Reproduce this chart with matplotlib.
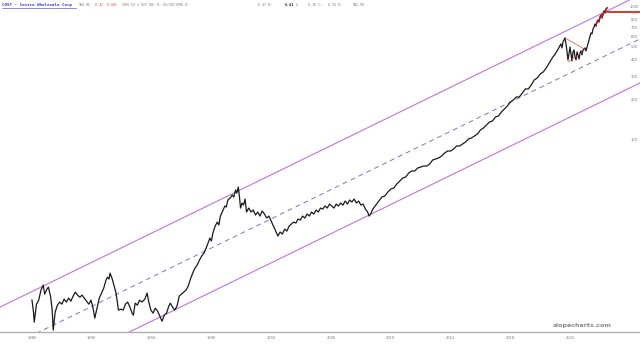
import numpy as np
import matplotlib
matplotlib.use("Agg")
import matplotlib.pyplot as plt
from matplotlib import transforms

# price history (decimal year, adjusted close)
years = [
    1986.0, 1986.1, 1986.15, 1986.3, 1986.45, 1986.6, 1986.75, 1986.85, 1987.0, 1987.1,
    1987.25, 1987.35, 1987.42, 1987.55, 1987.7, 1987.85, 1988.0, 1988.15, 1988.3, 1988.45,
    1988.6, 1988.75, 1988.9, 1989.05, 1989.2, 1989.35, 1989.5, 1989.65, 1989.8, 1989.95,
    1990.1, 1990.2, 1990.35, 1990.5, 1990.65, 1990.8, 1990.95, 1991.05, 1991.15, 1991.22,
    1991.35, 1991.5, 1991.62, 1991.72, 1991.78, 1991.95, 1992.1, 1992.25, 1992.4, 1992.55,
    1992.7, 1992.78, 1992.9, 1993.05, 1993.2, 1993.35, 1993.55, 1993.7, 1993.8, 1993.95,
    1994.1, 1994.25, 1994.4, 1994.55, 1994.7, 1994.85, 1995.0, 1995.15, 1995.25, 1995.4,
    1995.55, 1995.7, 1995.85, 1996.0, 1996.15, 1996.3, 1996.45, 1996.6, 1996.75, 1996.9,
    1997.05, 1997.2, 1997.35, 1997.5, 1997.65, 1997.8, 1997.9, 1998.0, 1998.1, 1998.25,
    1998.4, 1998.5, 1998.6, 1998.75, 1998.9, 1999.0, 1999.1, 1999.25, 1999.4, 1999.5,
    1999.62, 1999.7, 1999.8, 1999.88, 1999.95, 2000.05, 2000.15, 2000.25, 2000.35, 2000.5,
    2000.65, 2000.8, 2000.95, 2001.1, 2001.25, 2001.4, 2001.55, 2001.7, 2001.85, 2002.0,
    2002.15, 2002.3, 2002.45, 2002.6, 2002.75, 2002.9, 2003.05, 2003.2, 2003.35, 2003.5,
    2003.65, 2003.8, 2003.95, 2004.1, 2004.25, 2004.4, 2004.55, 2004.7, 2004.85, 2005.0,
    2005.15, 2005.3, 2005.45, 2005.6, 2005.75, 2005.9, 2006.05, 2006.2, 2006.35, 2006.5,
    2006.65, 2006.8, 2006.95, 2007.1, 2007.25, 2007.4, 2007.55, 2007.7, 2007.85, 2008.0,
    2008.15, 2008.3, 2008.45, 2008.55, 2008.65, 2008.8, 2008.95, 2009.1, 2009.25, 2009.4,
    2009.6, 2009.8, 2010.0, 2010.2, 2010.4, 2010.6, 2010.8, 2011.0, 2011.2, 2011.4,
    2011.6, 2011.8, 2012.0, 2012.2, 2012.4, 2012.6, 2012.8, 2013.0, 2013.2, 2013.4,
    2013.6, 2013.8, 2014.0, 2014.2, 2014.4, 2014.6, 2014.8, 2015.0, 2015.2, 2015.4,
    2015.6, 2015.8, 2016.0, 2016.2, 2016.4, 2016.6, 2016.8, 2017.0, 2017.2, 2017.4,
    2017.6, 2017.8, 2018.0, 2018.2, 2018.4, 2018.6, 2018.8, 2019.0, 2019.2, 2019.4,
    2019.6, 2019.8, 2020.0, 2020.2, 2020.4, 2020.6, 2020.8, 2021.0, 2021.2, 2021.38,
    2021.45, 2021.52, 2021.65, 2021.72, 2021.79, 2021.85, 2021.92, 2021.99, 2022.06, 2022.12,
    2022.19, 2022.26, 2022.32, 2022.39, 2022.46, 2022.52, 2022.59, 2022.66, 2022.73, 2022.79,
    2022.86, 2022.99, 2023.06, 2023.19, 2023.26, 2023.33, 2023.39, 2023.46, 2023.53, 2023.6,
    2023.66, 2023.73, 2023.8, 2023.87, 2023.93, 2024.0, 2024.07, 2024.13, 2024.2, 2024.27,
    2024.33, 2024.4, 2024.47,
]
prices = [
    6.25, 5.08, 4.27, 5.83, 6.25, 7.43, 8.11, 6.94, 7.56, 7.83,
    6.58, 5.26, 3.72, 5.08, 5.73, 6.04, 5.83, 6.36, 6.04, 6.47,
    6.14, 6.70, 7.18, 6.82, 6.58, 6.82, 6.47, 6.14, 5.83, 6.25,
    5.35, 4.58, 5.44, 6.47, 7.06, 7.70, 8.84, 9.31, 9.00, 9.98,
    9.15, 7.96, 7.06, 5.93, 5.26, 5.35, 5.26, 5.83, 6.04, 5.54,
    4.99, 4.82, 5.93, 5.73, 6.25, 6.04, 6.36, 7.06, 6.14, 5.26,
    4.99, 5.44, 5.17, 4.74, 4.34, 4.82, 4.99, 5.63, 5.93, 5.54,
    5.26, 5.63, 6.70, 6.94, 7.18, 7.43, 7.96, 9.00, 9.98, 10.88,
    11.46, 12.5, 13.4, 14.1, 15.4, 17.08, 18.30, 17.4, 19.96, 22.53,
    24.15, 22.93, 26.80, 29.23, 31.87, 31.32, 35.36, 36.61, 38.56, 37.25,
    42.05, 39.92, 44.29, 37.25, 30.79, 33.57, 32.43, 35.98, 28.73, 30.79,
    28.73, 29.74, 27.27, 28.73, 26.80, 29.23, 27.75, 25.89, 26.80, 24.57,
    22.53, 20.66, 18.95, 20.31, 19.62, 21.39, 20.66, 22.53, 23.33, 24.15,
    23.73, 25.45, 25.0, 26.80, 25.89, 27.75, 26.80, 28.73, 27.75, 29.74,
    28.73, 30.79, 30.26, 31.87, 30.79, 32.99, 31.87, 30.79, 32.99, 31.87,
    33.57, 32.43, 34.75, 32.99, 35.36, 34.16, 35.98, 33.57, 34.75, 32.43,
    32.99, 30.26, 28.73, 26.80, 27.75, 30.26, 31.87, 33.57, 35.36, 37.25,
    37.90, 40.62, 42.78, 43.53, 46.65, 49.14, 51.78, 52.69, 56.46, 58.46,
    58.46, 61.57, 62.65, 63.74, 63.74, 65.99, 70.72, 71.96, 73.22, 75.80,
    79.84, 82.65, 82.65, 85.56, 90.13, 90.13, 93.31, 96.60, 101.8, 103.6,
    107.2, 111.0, 119.0, 123.1, 129.7, 136.6, 139.0, 149.0, 151.6, 162.5,
    171.1, 180.3, 193.2, 200.0, 210.7, 210.7, 225.9, 242.1, 242.1, 259.4,
    282.9, 292.9, 313.9, 324.9, 348.3, 379.8, 414.3, 444.0, 484.1, 527.9,
    492.6, 546.5, 585.7, 527.9, 459.6, 400.0, 444.0, 501.2, 436.4, 393.1,
    459.6, 475.8, 421.5, 400.0, 459.6, 436.4, 407.1, 451.7, 467.6, 436.4,
    475.8, 492.6, 467.6, 527.9, 565.8, 606.4, 638.7, 627.7, 684.5, 708.7,
    746.5, 721.0, 772.8, 800.0, 772.8, 843.0, 872.7, 828.5, 888.0, 935.3,
    903.4, 968.2, 985.2,
]

# regression channel end points (year, price)
channel_years = [1983.86, 2026.67]
channel_upper = [5.54, 1234.0]
channel_mid = [2.586, 575.7]
channel_lower = [1.207, 268.6]

# triangle drawn on the 2022 top
tri_years = [2021.65, 2022.93]
tri_top = [585.7, 484.1]
tri_bottom_years = [2021.85, 2022.93]
tri_bottom = [386.4, 467.6]

last_level = 920.0
x_ticks = [1986, 1990, 1994, 1998, 2002, 2006, 2010, 2014, 2018, 2022]
y_ticks = [100, 200, 300, 400, 500, 600, 700, 800, 900, 1000]

W, H = 640, 344
fig = plt.figure(figsize=(W / 100, H / 100), dpi=100)
fig.patch.set_facecolor("white")
ax = fig.add_axes([0, 12 / H, 1, 332 / H])
ax.set_yscale("log")
ax.set_xlim(1983.86, 2026.67)
ax.set_ylim(3.60, 1129)

purple = "#c173d8"
ax.plot(channel_years, channel_upper, color=purple, lw=0.8)
ax.plot(channel_years, channel_lower, color=purple, lw=0.8)
ax.plot(channel_years, channel_mid, color="#8a6cc4", lw=0.7, ls=(0, (5, 4)))

ax.plot(years, prices, color="#1a1a1a", lw=0.9)
ax.plot(years[-12:], prices[-12:], color="#a02020", lw=0.9)

ax.plot(tri_years, tri_top, color="#d05050", lw=0.5)
ax.plot(tri_bottom_years, tri_bottom, color="#d05050", lw=0.5)
ax.plot([years[-1], 2026.67], [last_level, last_level], color="#dd2222", lw=1.3)

# axes styling
for s in ["top", "left", "right"]:
    ax.spines[s].set_visible(False)
ax.spines["bottom"].set_color("#b0b0b0")
ax.spines["bottom"].set_linewidth(1.0)
ax.set_xticks(x_ticks)
ax.set_xticklabels([str(y) for y in x_ticks], fontsize=2.6, color="#777777")
ax.tick_params(axis="x", length=0, pad=3)
ax.set_yticks([])
ax.minorticks_off()
ax.yaxis.set_minor_locator(matplotlib.ticker.NullLocator())

tr = transforms.blended_transform_factory(ax.transAxes, ax.transData)
for v in y_ticks:
    ax.text(634 / W, v, str(v), transform=tr, ha="center", va="center",
            fontsize=2.6, color="#777777")

# header
mono = "DejaVu Sans Mono"
def head(x, s, color="#777777", weight="normal", size=2.4):
    fig.text(x / W, 1 - 5 / H, s, ha="left", va="center", family=mono,
             fontsize=size, color=color, weight=weight)

head(2, "COST - Costco Wholesale Corp", color="#3333cc", weight="bold", size=3.1)
fig.add_artist(plt.Line2D([2 / W, 76 / W], [1 - 7.5 / H, 1 - 7.5 / H], color="#3333cc", lw=0.4))
head(79, "956.95")
head(93, "-0.42 -0.04%", color="#e05050")
head(121, "(956.53 x 927.00) D: 03/29/1996 O:")
head(258, "6.37 H:")
head(285, "6.41", color="#333333", weight="bold", size=2.8)
head(296, "L:")
head(308, "6.18 C:")
head(328, "6.33 V:")
head(353, "942.96")

fig.text(582 / W, 1 - 326 / H, "slopecharts.com", ha="center", va="center",
         fontsize=4.6, color="#8a8a8a", weight="bold")

fig.savefig("out.png", dpi=100, facecolor="white")
